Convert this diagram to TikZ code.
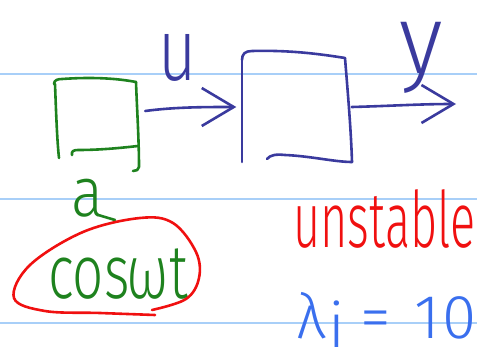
\documentclass[tikz,border=0pt]{standalone}
\usepackage{fontspec}
\newfontfamily\handfont{Fira Sans}[UprightFont={* Light}]
\usetikzlibrary{arrows.meta, positioning, calc}
\definecolor{ruleblue}{HTML}{A8CFF8}
\definecolor{penblue}{HTML}{3A3A9E}
\definecolor{pengreen}{HTML}{1E821E}
\definecolor{penred}{HTML}{F01010}
\definecolor{penlight}{HTML}{3A6FEE}
\tikzset{
  pen/.style   = {line width=2.6pt, line cap=round, line join=round},
  hand/.style  = {inner sep=0pt, font=\handfont},
  barb/.style  = {-{Straight Barb[length=32pt, width=38pt]}},
  block/.style = {draw=none, inner sep=0pt},
}
\begin{document}
\begin{tikzpicture}[x=1pt, y=-1pt]
  \useasboundingbox (0,0) rectangle (477,361);
  \clip (0,0) rectangle (477,361);
  % notebook lines
  \foreach \yy in {74,199,323}
    \draw[ruleblue, line width=1.3pt] (0,\yy) -- (477,\yy);

  % the two blocks
  \node[block, minimum width=84pt, minimum height=90pt] (src) at (97,125) {};
  \node[block, minimum width=111pt, minimum height=110pt] (plant) at (297,107) {};

  % green block, by hand
  \draw[pen, pengreen] (55,84) .. controls (56,110) and (57,140) .. (59,158);
  \draw[pen, pengreen] (54,84) .. controls (54,80) and (58,79) .. (62,79)
      .. controls (90,77) and (115,78) .. (136,82);
  \draw[pen, pengreen] (136,82) .. controls (137,110) and (139,140) .. (139,167)
      .. controls (139,170) and (136,171) .. (133,171);
  \draw[pen, pengreen] (72,155) .. controls (71,151) and (74,150) .. (78,150)
      .. controls (100,150) and (120,148) .. (138,146);

  % blue block, by hand
  \draw[pen, penblue] (242,60) .. controls (242,95) and (242,130) .. (242,162);
  \draw[pen, penblue] (242,60) .. controls (242,54) and (245,51) .. (252,51)
      .. controls (290,50) and (320,54) .. (345,58);
  \draw[pen, penblue] (345,58) .. controls (348,95) and (351,130) .. (352,162);
  \draw[pen, penblue] (267,159) .. controls (270,155) and (276,154) .. (285,155)
      .. controls (310,156) and (335,162) .. (352,162);

  % signals
  \draw[pen, penblue, barb] ([shift={(6,-14)}]src.east)
      .. controls (175,107) and (205,107) .. ([xshift=-5]plant.west);
  \coordinate (yend) at (456,104);
  \draw[pen, penblue, barb] ([xshift=-1]plant.east)
      .. controls (390,106) and (420,104) .. (yend);

  \node[hand, penblue, font=\handfont\fontsize{88}{88}\selectfont] (ulab) at (178,58)
      {\scalebox{0.75}[1]{u}};
  \node[hand, penblue, font=\handfont\fontsize{98}{98}\selectfont] (ylab) at (421,58)
      {\scalebox{0.95}[1]{y}};

  % amplitude and the input signal
  \node[hand, pengreen, font=\handfont\fontsize{70}{70}\selectfont] (alab) at (87,198)
      {\scalebox{0.85}[1]{a}};
  \node[hand, pengreen, font=\handfont\fontsize{76}{76}\selectfont, anchor=base west] (cos)
      at (48,298) {\scalebox{0.72}[1]{cos\kern-0.05em ωt}};
  \draw[pen, pengreen] ([xshift=-4pt, yshift=2pt]alab.south east) -- (115,220);
  \draw[pen, penred] plot[smooth, tension=0.6] coordinates {
      (155,315) (100,313) (45,311) (14,298) (30,265) (83,232) (140,218)
      (173,223) (196,252) (199,278) (186,299) (152,310)};

  % notes on the right
  \node[hand, penred, font=\handfont\fontsize{78}{78}\selectfont, anchor=base west] (note)
      at (293,247) {\scalebox{0.6}[1]{unstable}};
  \node[hand, penlight, font=\handfont\fontsize{62}{62}\selectfont, anchor=base west] (eig)
      at (296,338) {λ\kern0.05em\raisebox{-9pt}{i}\kern0.25em=\kern0.38em1\kern0.04em0};
\end{tikzpicture}
\end{document}
